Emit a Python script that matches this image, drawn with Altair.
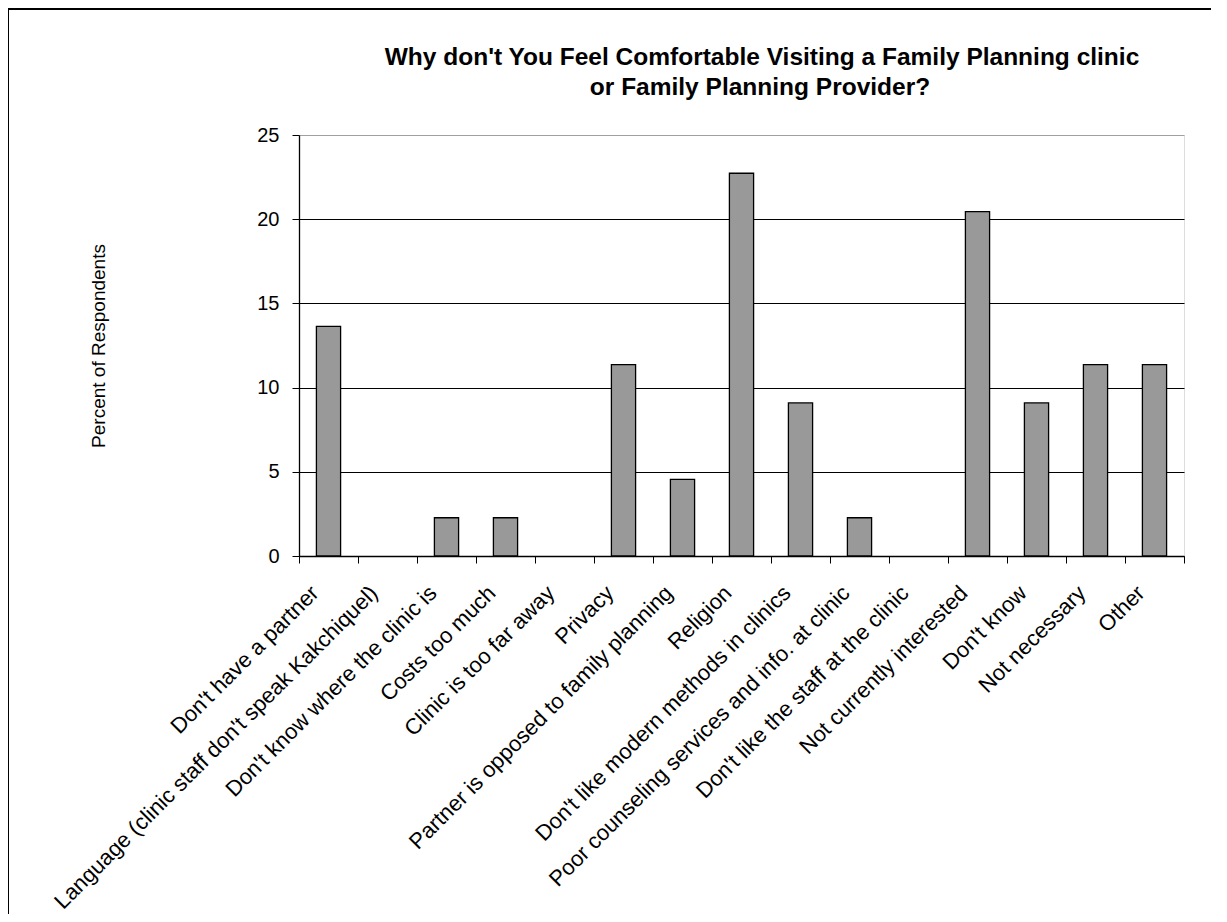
import altair as alt
import pandas as pd

categories = [
    "Don't have a partner",
    "Language (clinic staff don't speak Kakchiquel)",
    "Don't know where the clinic is",
    "Costs too much",
    "Clinic is too far away",
    "Privacy",
    "Partner is opposed to family planning",
    "Religion",
    "Don't like modern methods in clinics",
    "Poor counseling services and info. at clinic",
    "Don't like the staff at the clinic",
    "Not currently interested",
    "Don't know",
    "Not necessary",
    "Other",
]
values = [13.64, 0, 2.27, 2.27, 0, 11.36, 4.55, 22.73, 9.09, 2.27, 0, 20.45, 9.09, 11.36, 11.36]
y_ticks = [0, 5, 10, 15, 20, 25]

title_lines = [
    "Why don't You Feel Comfortable Visiting a Family Planning clinic",
    "or Family Planning Provider?",
]

df = pd.DataFrame({"reason": categories, "pct": values})

FONT = "Liberation Sans"

bars = alt.Chart(df).transform_filter(
    "datum.pct > 0"
).mark_bar(
    color="#999999", stroke="black", strokeWidth=1.3,
    width=alt.RelativeBandSize(0.41),
).encode(
    x=alt.X(
        "reason:N",
        sort=categories,
        scale=alt.Scale(domain=categories, paddingInner=0, paddingOuter=0),
        axis=alt.Axis(
            title=None,
            labelAngle=-45,
            labelAlign="right",
            labelBaseline="top",
            labelFontSize=22,
            labelFont=FONT,
            labelColor="black",
            labelLimit=800,
            labelPadding=19,
            labelOffset=-21,
            tickBand="extent",
            tickSize=7,
            tickColor="black",
            domainColor="black",
            domainWidth=1.3,
            grid=False,
        ),
    ),
    y=alt.Y(
        "pct:Q",
        scale=alt.Scale(domain=[0, 25], nice=False),
        axis=alt.Axis(
            title="Percent of Respondents",
            titleFont=FONT,
            titleFontSize=19,
            titleFontWeight="normal",
            titleColor="black",
            titlePadding=148,
            values=y_ticks,
            labelFontSize=20,
            labelFont=FONT,
            labelColor="black",
            labelPadding=13,
            tickSize=7,
            tickColor="black",
            domainColor="black",
            domainWidth=1.3,
            grid=True,
            gridColor=alt.condition("datum.value == 25", alt.value("#a0a0a0"), alt.value("black")),
            gridWidth=1,
        ),
    ),
)

title1 = alt.Chart(pd.DataFrame({"t": [title_lines[0]]})).mark_text(
    font=FONT, fontSize=24.5, fontWeight="bold", color="black", align="center", baseline="middle"
).encode(text="t:N", x=alt.value(463), y=alt.value(-77))

title2 = alt.Chart(pd.DataFrame({"t": [title_lines[1]]})).mark_text(
    font=FONT, fontSize=24.5, fontWeight="bold", color="black", align="center", baseline="middle"
).encode(text="t:N", x=alt.value(461), y=alt.value(-47))

border = alt.Chart(pd.DataFrame({"a": [0]})).mark_rect(
    filled=False, stroke="black", strokeWidth=2
).encode(
    x=alt.value(-291),
    x2=alt.value(1400),
    y=alt.value(-126),
    y2=alt.value(1000),
)

chart = alt.layer(bars, title1, title2, border).properties(
    width=885,
    height=421,
    autosize=alt.AutoSizeParams(type="none"),
    padding={"left": 291, "top": 127, "right": 27, "bottom": 358},
).configure_view(
    stroke="#a0a0a0", strokeWidth=1.3
).configure(background="white")

chart.save("out.html", embed_options={"renderer": "svg", "actions": False})
